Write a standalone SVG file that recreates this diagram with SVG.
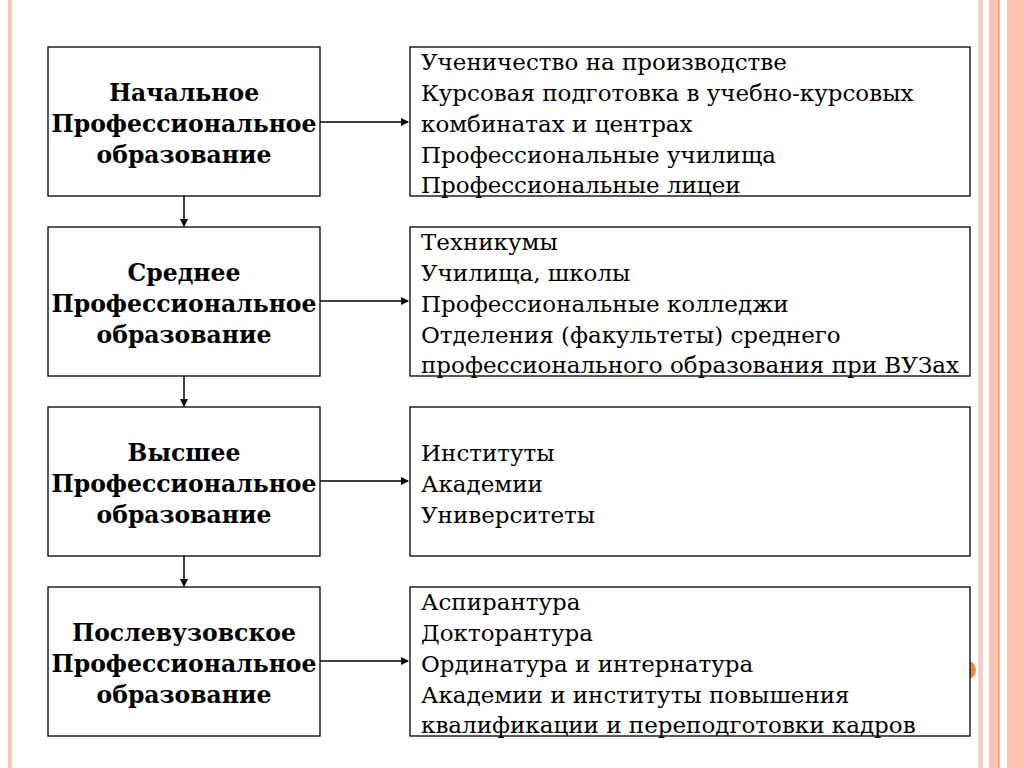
<svg xmlns="http://www.w3.org/2000/svg" width="1024" height="768" viewBox="0 0 1024 768">
<style>
.box{fill:#fff;stroke:#000;stroke-width:1.3}
.l{font-family:"DejaVu Serif",serif;font-size:23.5px;font-weight:bold;text-anchor:middle}
.r{font-family:"DejaVu Serif",serif;font-size:23px}
.c{stroke:#000;stroke-width:1.5;fill:none;marker-end:url(#a)}
</style>
<defs><marker id="a" markerWidth="8" markerHeight="8" refX="7" refY="4" orient="auto" markerUnits="userSpaceOnUse"><path d="M0,0L8,4L0,8z"/></marker></defs>
<rect width="1024" height="768" fill="#fff"/>
<rect x="8" y="0" width="4" height="768" fill="#f6c9bb"/>
<rect x="978" y="0" width="5" height="768" fill="#f6d0c3"/>
<rect x="989" y="0" width="11" height="768" fill="#fac4b0"/>
<rect x="998" y="0" width="1.5" height="768" fill="#e9a586"/>
<rect x="1007" y="0" width="17" height="768" fill="#fcc4ae"/>
<circle cx="966" cy="670" r="10" fill="#ee8a3e"/>
<g id="connectors">
<line class="c" x1="320" y1="122" x2="408" y2="122"/>
<line class="c" x1="320" y1="301" x2="408" y2="301"/>
<line class="c" x1="320" y1="481" x2="408" y2="481"/>
<line class="c" x1="320" y1="661" x2="408" y2="661"/>
<line class="c" x1="184" y1="196" x2="184" y2="226"/>
<line class="c" x1="184" y1="376" x2="184" y2="406"/>
<line class="c" x1="184" y1="556" x2="184" y2="586"/>
</g>
<g id="n1"><rect class="box" x="48" y="47" width="272" height="149"/>
<text class="l" x="184" y="101">Начальное</text><text class="l" x="184" y="132">Профессиональное</text><text class="l" x="184" y="163">образование</text></g>
<g id="n2"><rect class="box" x="48" y="227" width="272" height="149"/>
<text class="l" x="184" y="281">Среднее</text><text class="l" x="184" y="312">Профессиональное</text><text class="l" x="184" y="343">образование</text></g>
<g id="n3"><rect class="box" x="48" y="407" width="272" height="149"/>
<text class="l" x="184" y="461">Высшее</text><text class="l" x="184" y="492">Профессиональное</text><text class="l" x="184" y="523">образование</text></g>
<g id="n4"><rect class="box" x="48" y="587" width="272" height="149"/>
<text class="l" x="184" y="641">Послевузовское</text><text class="l" x="184" y="672">Профессиональное</text><text class="l" x="184" y="703">образование</text></g>
<g id="r1"><rect class="box" x="410" y="47" width="560" height="149"/>
<text class="r" x="421" y="70">Ученичество на производстве</text><text class="r" x="421" y="101">Курсовая подготовка в учебно-курсовых</text><text class="r" x="421" y="132">комбинатах и центрах</text><text class="r" x="421" y="163">Профессиональные училища</text><text class="r" x="421" y="193">Профессиональные лицеи</text></g>
<g id="r2"><rect class="box" x="410" y="227" width="560" height="149"/>
<text class="r" x="421" y="250">Техникумы</text><text class="r" x="421" y="281">Училища, школы</text><text class="r" x="421" y="312">Профессиональные колледжи</text><text class="r" x="421" y="343">Отделения (факультеты) среднего</text><text class="r" x="421" y="373">профессионального образования при ВУЗах</text></g>
<g id="r3"><rect class="box" x="410" y="407" width="560" height="149"/>
<text class="r" x="421" y="461">Институты</text><text class="r" x="421" y="492">Академии</text><text class="r" x="421" y="523">Университеты</text></g>
<g id="r4"><rect class="box" x="410" y="587" width="560" height="149"/>
<text class="r" x="421" y="610">Аспирантура</text><text class="r" x="421" y="641">Докторантура</text><text class="r" x="421" y="672">Ординатура и интернатура</text><text class="r" x="421" y="703">Академии и институты повышения</text><text class="r" x="421" y="733">квалификации и переподготовки кадров</text></g>
</svg>
